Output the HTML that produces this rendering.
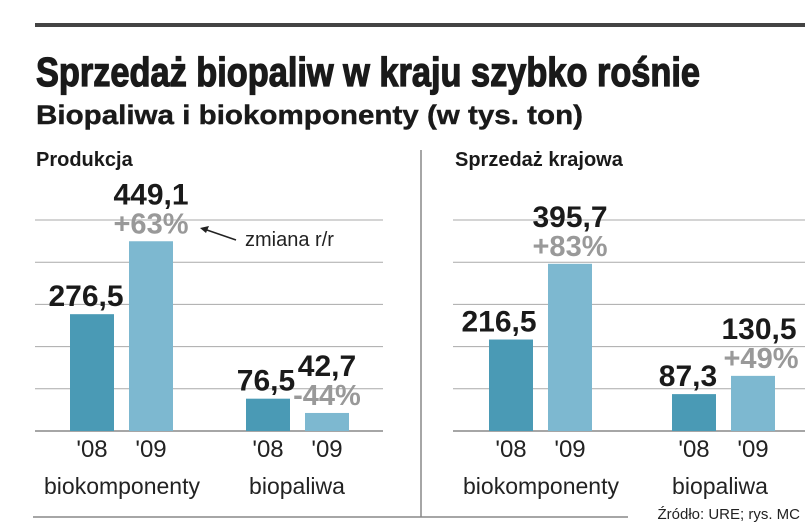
<!DOCTYPE html>
<html><head><meta charset="utf-8"><style>
body{margin:0;background:#fff}
svg{display:block;font-family:"Liberation Sans",sans-serif}
</style></head><body>
<svg width="805" height="531" viewBox="0 0 805 531">
<rect x="35" y="23" width="770" height="4" fill="#444"/>
<text x="36" y="86" font-size="41" font-weight="bold" textLength="664" lengthAdjust="spacingAndGlyphs" fill="#1a1a1a" stroke="#1a1a1a" stroke-width="1.3">Sprzedaż biopaliw w kraju szybko rośnie</text>
<text x="36" y="124" font-size="27" font-weight="bold" textLength="547" lengthAdjust="spacingAndGlyphs" fill="#1a1a1a" stroke="#1a1a1a" stroke-width="0.4">Biopaliwa i biokomponenty (w tys. ton)</text>
<text x="36" y="166" font-size="20" font-weight="bold" fill="#1a1a1a">Produkcja</text>
<text x="455" y="166" font-size="20" font-weight="bold" fill="#1a1a1a">Sprzedaż krajowa</text>
<line x1="421" y1="150" x2="421" y2="517" stroke="#888" stroke-width="1.5"/>
<line x1="33" y1="517" x2="628" y2="517" stroke="#888" stroke-width="1.5"/>
<text x="800" y="519" font-size="15" text-anchor="end" fill="#222">Źródło: URE;  rys. MC</text>
<g id="grid"></g><g id="bars"></g><g id="labels"></g>
<line x1="236" y1="240" x2="204" y2="229" stroke="#222" stroke-width="1.5"/>
<polygon points="200,228 209,226 206,233" fill="#222"/>
<text x="245" y="246" font-size="20" fill="#222">zmiana r/r</text>
</svg>
<script>
const panels = ["Produkcja","Sprzedaż krajowa"];
const categories = ["biokomponenty","biopaliwa"];
const years = ["'08","'09"];
const prodValues = [276.5,449.1,76.5,42.7];
const saleValues = [216.5,395.7,87.3,130.5];
const prodChanges = ["","+63%","","-44%"];
const saleChanges = ["","+83%","","+49%"];
const valueLabels = [["276,5","449,1","76,5","42,7"],["216,5","395,7","87,3","130,5"]];
const NS="http://www.w3.org/2000/svg";
const base=431, scale=0.4225, gridStep=42.2;
const y=v=>base-v*scale;
function mk(t,a,p){const e=document.createElementNS(NS,t);for(const k in a)e.setAttribute(k,a[k]);document.getElementById(p).appendChild(e);return e;}
const panelDefs=[{gx1:35,gx2:383,bx:[70,129,246,305],vals:prodValues,ch:prodChanges,catx:[122,297]},
 {gx1:453,gx2:805,bx:[489,548,672,731],vals:saleValues,ch:saleChanges,catx:[541,720]}];
panelDefs.forEach((p,pi)=>{
 for(let i=0;i<=5;i++){
  const l=mk('line',{x1:p.gx1,x2:p.gx2,y1:base-i*gridStep,y2:base-i*gridStep,stroke:i==0?'#888':'#aaa','stroke-width':i==0?1.5:1},'grid');
  
  
 }
 p.vals.forEach((v,i)=>{
  const r=mk('rect',{x:p.bx[i],y:y(v),width:44,height:v*scale,fill:i%2?'#7db8d0':'#4a9ab5'},'bars');
  
  
  const cx=p.bx[i]+22;
  const hasCh=p.ch[i]!=="";
  let vx=cx, vy=y(v)-8;
  if(hasCh) vy=y(v)-37;
  if(pi==0&&i==0) vx=cx-6;
  if(pi==1&&i==0) vx=cx-12;
  if(pi==0&&i==2) vx=cx-2;
  if(pi==1&&i==2) vx=cx-6;
  if(pi==1&&i==3) vx=cx+6;
  const t=mk('text',{x:vx,y:vy,'font-size':30,'font-weight':'bold','text-anchor':'middle',fill:'#1a1a1a'},'labels');
  t.textContent=valueLabels[pi][i];
  
  
  if(hasCh){
   const c=mk('text',{x:(pi==1&&i==3)?cx+8:cx,y:y(v)-8,'font-size':29,'font-weight':'bold','text-anchor':'middle',fill:'#999'},'labels');
   c.textContent=p.ch[i];
   
   
  }
  const yt=mk('text',{x:cx,y:457,'font-size':24,'text-anchor':'middle',fill:'#222'},'labels');
  yt.textContent=years[i%2];
  
  
 });
 categories.forEach((c,ci)=>{
  const t=mk('text',{x:p.catx[ci],y:494,'font-size':23,'text-anchor':'middle',fill:'#222'},'labels');
  t.textContent=c;
  
  
 });
});
</script>
</body></html>
